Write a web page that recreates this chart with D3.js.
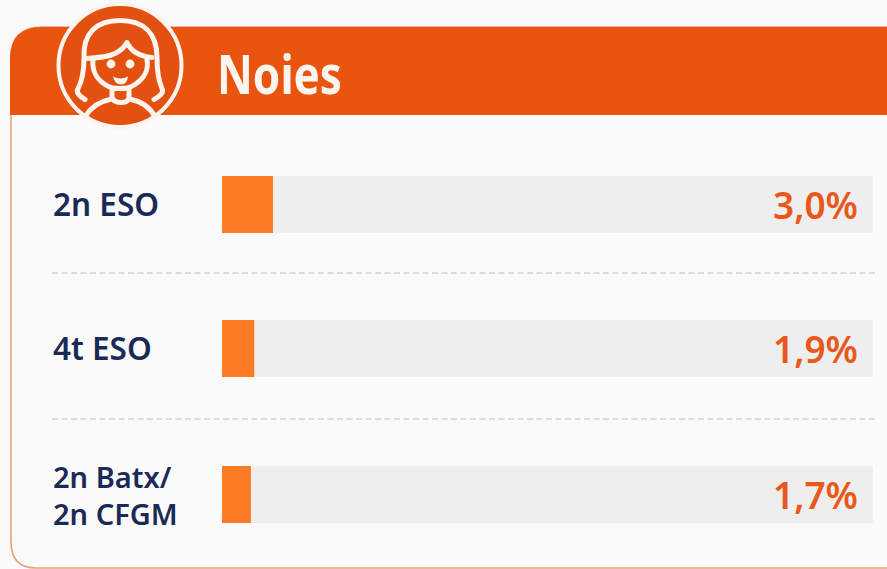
<!DOCTYPE html>
<html><head><meta charset="utf-8">
<script src="https://cdn.jsdelivr.net/npm/d3@7"></script>
<style>html,body{margin:0;padding:0;background:#fafafa;overflow:hidden}svg{display:block}</style>
</head><body><svg id="c" width="887" height="569"></svg>
<script>
const title = "Noies";
const categories = [["2n ESO"], ["4t ESO"], ["2n Batx/", "2n CFGM"]];
const values = [3.0, 1.9, 1.7];
const valueLabels = ["3,0%", "1,9%", "1,7%"];
const domainMax = 38.3;

const W = 887, H = 569;
const font = "'Noto Sans','Open Sans',sans-serif";
const svg = d3.select("#c");
svg.append("rect").attr("width", W).attr("height", H).attr("fill", "#fafafa");

const x = d3.scaleLinear().domain([0, domainMax]).range([222, 873]);
const barH = 57;
const yc = i => [204.5, 348.5, 494.5][i];

// card outline
svg.append("path")
  .attr("d", `M${W + 5},568 H36 Q11,568 11,542 V60 Q11,27 42,27 H${W + 5}`)
  .attr("fill", "none").attr("stroke", "#e9a07a").attr("stroke-width", 1.6);

// header band
svg.append("path")
  .attr("d", `M${W},115 H10 V58 Q10,27 42,27 H${W} Z`)
  .attr("fill", "#e9540f");

// header icon
const icon = svg.append("g").attr("transform", "translate(120,65.5)");
icon.append("circle").attr("r", 61.5).attr("fill", "#e4500f").attr("stroke", "#fbf4ef").attr("stroke-width", 4);
const ln = { fill: "none", stroke: "#fbf4ef", "stroke-width": 5, "stroke-linecap": "round", "stroke-linejoin": "round" };
const draw = d => { const p = icon.append("path").attr("d", d); Object.entries(ln).forEach(([k, v]) => p.attr(k, v)); return p; };
// hair outer
draw("M-35,34 Q-45,28 -42,23 Q-36,12 -36,-8 C-37,-32 -24,-45 0,-45 C24,-45 37,-32 37,-8 Q37,12 42,23 Q45,28 34,34");
// fringe
draw("M-33,-7 C-15,-8 0,-10 7,-23 C12,-12 22,-9 32,-8");
// face
draw("M-27,-6 C-28,6 -24,13 -15,19 C-9,23 -5,23 0,23 C5,23 9,23 15,19 C24,13 29,6 27,-6");
// neck + shoulders
draw("M-8,24 V31 Q-7,37 1,37 Q9,37 9,31 V24");
draw("M-35,51 Q-26,37 -10,34");
draw("M35,51 Q27,37 11,34");
// smile
icon.append("path").attr("d", "M-7,11 Q1,15 8,11 Q7,19 1,19 Q-5,19 -7,11 Z").attr("fill", "#fbf4ef");
icon.append("circle").attr("cx", -9).attr("cy", -1.5).attr("r", 4.4).attr("fill", "#fbf4ef");
icon.append("circle").attr("cx", 10).attr("cy", -1.5).attr("r", 4.4).attr("fill", "#fbf4ef");

svg.append("text").attr("x", 217).attr("y", 94).text(title)
  .attr("font-family", font).attr("font-size", 54).attr("font-weight", 700)
  .attr("fill", "#fdf5ef").attr("textLength", 125).attr("lengthAdjust", "spacingAndGlyphs");

// dashed separators
svg.selectAll("line.sep").data([273, 419]).enter().append("line").attr("class", "sep")
  .attr("x1", 52).attr("x2", 877).attr("y1", d => d).attr("y2", d => d)
  .attr("stroke", "#d2d2d2").attr("stroke-width", 1.3).attr("stroke-dasharray", "6 3.5");

const rows = svg.selectAll("g.row").data(values).enter().append("g").attr("class", "row");
rows.append("rect").attr("x", x(0)).attr("width", x(domainMax) - x(0))
  .attr("y", (d, i) => yc(i) - barH / 2).attr("height", barH).attr("fill", "#eeeeee");
rows.append("rect").attr("x", x(0)).attr("width", d => x(d) - x(0))
  .attr("y", (d, i) => yc(i) - barH / 2).attr("height", barH).attr("fill", "#fb7a26");
rows.append("text").attr("x", 858).attr("y", (d, i) => yc(i) + 14).attr("text-anchor", "end")
  .text((d, i) => valueLabels[i]).attr("font-family", font).attr("font-size", 37).attr("font-weight", 600)
  .attr("fill", "#e9581a");

rows.each(function (d, i) {
  const lines = categories[i];
  const g = d3.select(this);
  lines.forEach((t, j) => {
    g.append("text").attr("x", 53).attr("y", yc(i) + 11.5 + (j - (lines.length - 1) / 2) * 37)
      .text(t).attr("font-family", font).attr("font-size", lines.length > 1 ? 29 : 31.5).attr("font-weight", 600)
      .attr("fill", "#1a2a56");
  });
});
</script></body></html>
